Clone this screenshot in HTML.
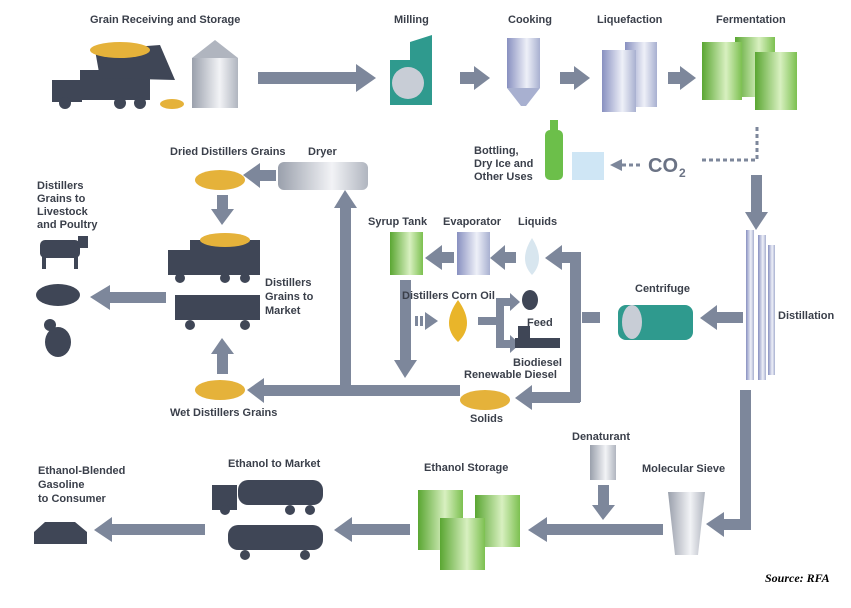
<!DOCTYPE html>
<html><head><meta charset="utf-8"><style>
body{margin:0;background:#fff}
svg{display:block}
text{font-family:"Liberation Sans",sans-serif;font-size:11px;font-weight:bold;fill:#3a3f4a}
</style></head><body>
<svg width="851" height="608" viewBox="0 0 851 608" xmlns="http://www.w3.org/2000/svg">
<defs>
<linearGradient id="gr" x1="0" x2="1"><stop offset="0" stop-color="#5aa632"/><stop offset=".6" stop-color="#d8f0c0"/><stop offset="1" stop-color="#7cc050"/></linearGradient>
<linearGradient id="bl" x1="0" x2="1"><stop offset="0" stop-color="#8890c0"/><stop offset=".6" stop-color="#eef0f8"/><stop offset="1" stop-color="#a8b0d0"/></linearGradient>
<linearGradient id="gy" x1="0" x2="1"><stop offset="0" stop-color="#9aa0ac"/><stop offset=".6" stop-color="#f2f3f6"/><stop offset="1" stop-color="#b0b5bf"/></linearGradient>
</defs>
<g fill="#7d879b" stroke="none">
<!-- top row arrows -->
<rect x="258" y="72" width="100" height="12"/><polygon points="356,64 376,78 356,92"/>
<rect x="460" y="72" width="16" height="12"/><polygon points="474,66 490,78 474,90"/>
<rect x="560" y="72" width="16" height="12"/><polygon points="574,66 590,78 574,90"/>
<rect x="668" y="72" width="14" height="12"/><polygon points="680,66 696,78 680,90"/>
<!-- fermentation down -->
<rect x="751" y="175" width="11" height="40"/><polygon points="745,212 768,212 756,230"/>
<!-- distillation to centrifuge -->
<rect x="715" y="312" width="28" height="11"/><polygon points="717,305 717,330 700,318"/>
<!-- centrifuge outputs -->
<rect x="582" y="312" width="18" height="11"/>
<rect x="570" y="252" width="11" height="150"/>
<rect x="560" y="252" width="20" height="11"/><polygon points="562,245 562,270 545,258"/>
<rect x="530" y="392" width="50" height="11"/><polygon points="532,385 532,410 515,398"/>
<rect x="503" y="252" width="13" height="11"/><polygon points="505,245 505,270 490,258"/>
<rect x="440" y="252" width="14" height="11"/><polygon points="442,245 442,270 425,258"/>
<!-- syrup down -->
<rect x="400" y="280" width="11" height="82"/><polygon points="394,360 417,360 405,378"/>
<!-- corn oil -->
<rect x="415" y="316" width="3" height="10"/><rect x="420" y="316" width="3" height="10"/><polygon points="425,312 438,321 425,330"/>
<rect x="478" y="317" width="22" height="8"/><rect x="496" y="298" width="8" height="50"/>
<rect x="496" y="298" width="16" height="8"/><polygon points="510,293 520,302 510,311"/>
<rect x="496" y="340" width="16" height="8"/><polygon points="510,335 520,344 510,353"/>
<!-- main vertical and left -->
<rect x="340" y="385" width="120" height="11"/>
<rect x="340" y="205" width="11" height="190"/><polygon points="334,208 357,208 345,190"/>
<rect x="262" y="385" width="90" height="11"/><polygon points="264,378 264,403 247,390"/>
<!-- dryer left -->
<rect x="258" y="170" width="18" height="11"/><polygon points="260,163 260,188 243,175"/>
<rect x="217" y="195" width="11" height="16"/><polygon points="211,209 234,209 222,225"/>
<rect x="217" y="352" width="11" height="22"/><polygon points="211,354 234,354 222,338"/>
<rect x="108" y="292" width="58" height="11"/><polygon points="110,285 110,310 90,297"/>
<!-- molecular sieve path -->
<rect x="740" y="390" width="11" height="140"/>
<rect x="722" y="519" width="29" height="11"/><polygon points="724,512 724,537 706,524"/>
<rect x="598" y="485" width="11" height="22"/><polygon points="592,505 615,505 603,520"/>
<rect x="545" y="524" width="118" height="11"/><polygon points="547,517 547,542 528,530"/>
<rect x="350" y="524" width="60" height="11"/><polygon points="352,517 352,542 334,530"/>
<rect x="110" y="524" width="95" height="11"/><polygon points="112,517 112,542 94,530"/>
</g>
<!-- CO2 dotted -->
<path d="M757 127 V160 H700" stroke="#7d879b" stroke-width="3" stroke-dasharray="4 3" fill="none"/>
<path d="M640 165 H620" stroke="#7d879b" stroke-width="3" stroke-dasharray="4 3" fill="none"/>
<polygon points="622,159 610,165 622,171" fill="#7d879b"/>
<text x="648" y="172" style="font-size:20px;fill:#6b7385">CO</text><text x="679" y="177" style="font-size:12px;fill:#6b7385">2</text>

<!-- Truck grain -->
<g fill="#3f4656"><rect x="52" y="80" width="30" height="22"/><rect x="80" y="70" width="70" height="30"/><polygon points="95,50 160,45 175,80 100,78"/><circle cx="65" cy="103" r="6"/><circle cx="120" cy="103" r="6"/><circle cx="140" cy="103" r="6"/></g>
<ellipse cx="120" cy="50" rx="30" ry="8" fill="#e5b23a"/><ellipse cx="172" cy="104" rx="12" ry="5" fill="#e5b23a"/>
<rect x="192" y="58" width="46" height="50" fill="url(#gy)"/><polygon points="192,58 215,40 238,58" fill="#b0b5bf"/>
<!-- mill -->
<rect x="390" y="60" width="42" height="45" fill="#2f9a8e"/><circle cx="408" cy="83" r="16" fill="#c8cdd6"/><polygon points="410,42 432,35 432,60 410,60" fill="#2f9a8e"/>
<!-- cooking -->
<rect x="507" y="38" width="33" height="50" fill="url(#bl)"/><polygon points="507,88 540,88 526,106 521,106" fill="#a8b0d0"/>
<!-- liquefaction -->
<rect x="625" y="42" width="32" height="65" fill="url(#bl)"/><rect x="602" y="50" width="34" height="62" fill="url(#bl)"/>
<!-- fermentation -->
<rect x="735" y="37" width="40" height="60" fill="url(#gr)"/><rect x="702" y="42" width="40" height="58" fill="url(#gr)"/><rect x="755" y="52" width="42" height="58" fill="url(#gr)"/>
<!-- bottle ice -->
<rect x="545" y="130" width="18" height="50" rx="5" fill="#6cbf4a"/><rect x="550" y="120" width="8" height="12" fill="#6cbf4a"/>
<rect x="572" y="152" width="32" height="28" fill="#cfe6f5"/>
<!-- distillation -->
<rect x="746" y="230" width="8" height="150" fill="url(#bl)"/><rect x="758" y="235" width="8" height="145" fill="url(#bl)"/><rect x="768" y="245" width="7" height="130" fill="url(#bl)"/>
<!-- centrifuge -->
<rect x="618" y="305" width="75" height="35" rx="8" fill="#2f9a8e"/><ellipse cx="632" cy="322" rx="10" ry="17" fill="#c8cdd6"/>
<!-- liquids drop / tanks -->
<path d="M532 238 Q546 260 532 275 Q518 260 532 238Z" fill="#d8e6ef"/>
<rect x="457" y="232" width="33" height="43" fill="url(#bl)"/>
<rect x="390" y="232" width="33" height="43" fill="url(#gr)"/>
<path d="M458 300 Q476 325 458 342 Q440 325 458 300Z" fill="#e9b52a"/>
<g fill="#3f4656"><ellipse cx="530" cy="300" rx="8" ry="10"/><rect x="515" y="338" width="45" height="10"/><rect x="518" y="326" width="12" height="14"/></g>
<ellipse cx="485" cy="400" rx="25" ry="10" fill="#e5b23a"/>
<!-- dryer -->
<rect x="278" y="162" width="90" height="28" rx="6" fill="url(#gy)"/>
<ellipse cx="220" cy="180" rx="25" ry="10" fill="#e5b23a"/>
<ellipse cx="220" cy="390" rx="25" ry="10" fill="#e5b23a"/>
<!-- truck/rail -->
<g fill="#3f4656"><rect x="168" y="250" width="25" height="25"/><rect x="190" y="240" width="70" height="35"/><circle cx="180" cy="278" r="5"/><circle cx="225" cy="278" r="5"/><circle cx="245" cy="278" r="5"/>
<rect x="175" y="295" width="85" height="25"/><circle cx="190" cy="325" r="5"/><circle cx="245" cy="325" r="5"/></g>
<ellipse cx="225" cy="240" rx="25" ry="7" fill="#e5b23a"/>
<!-- animals -->
<g fill="#3f4656"><rect x="40" y="240" width="40" height="18" rx="5"/><rect x="42" y="255" width="4" height="14"/><rect x="74" y="255" width="4" height="14"/><rect x="78" y="236" width="10" height="12"/>
<ellipse cx="58" cy="295" rx="22" ry="11"/><ellipse cx="58" cy="342" rx="13" ry="15"/><circle cx="50" cy="325" r="6"/></g>
<!-- sieve/denaturant/storage -->
<polygon points="668,492 705,492 698,555 675,555" fill="url(#gy)"/>
<rect x="590" y="445" width="26" height="35" fill="url(#gy)"/>
<rect x="418" y="490" width="45" height="60" fill="url(#gr)"/><rect x="475" y="495" width="45" height="52" fill="url(#gr)"/><rect x="440" y="518" width="45" height="52" fill="url(#gr)"/>
<g fill="#3f4656"><rect x="212" y="485" width="25" height="25"/><rect x="238" y="480" width="85" height="25" rx="10"/><circle cx="225" cy="510" r="5"/><circle cx="290" cy="510" r="5"/><circle cx="310" cy="510" r="5"/>
<rect x="228" y="525" width="95" height="25" rx="10"/><circle cx="245" cy="555" r="5"/><circle cx="305" cy="555" r="5"/>
<path d="M34 544 V532 L45 522 H75 L87 532 V544Z"/></g>
<!-- labels -->
<text x="90" y="23">Grain Receiving and Storage</text>
<text x="394" y="23">Milling</text>
<text x="508" y="23">Cooking</text>
<text x="597" y="23">Liquefaction</text>
<text x="716" y="23">Fermentation</text>
<text x="474" y="154">Bottling,</text><text x="474" y="167">Dry Ice and</text><text x="474" y="180">Other Uses</text>
<text x="170" y="155">Dried Distillers Grains</text><text x="308" y="155">Dryer</text>
<text x="37" y="189">Distillers</text><text x="37" y="202">Grains to</text><text x="37" y="215">Livestock</text><text x="37" y="228">and Poultry</text>
<text x="368" y="225">Syrup Tank</text><text x="443" y="225">Evaporator</text><text x="518" y="225">Liquids</text>
<text x="635" y="292">Centrifuge</text><text x="778" y="319">Distillation</text>
<text x="265" y="286">Distillers</text><text x="265" y="300">Grains to</text><text x="265" y="314">Market</text>
<text x="402" y="299">Distillers Corn Oil</text><text x="527" y="326">Feed</text>
<text x="513" y="366">Biodiesel</text><text x="464" y="378">Renewable Diesel</text>
<text x="470" y="422">Solids</text><text x="170" y="416">Wet Distillers Grains</text>
<text x="572" y="440">Denaturant</text><text x="642" y="472">Molecular Sieve</text>
<text x="424" y="471">Ethanol Storage</text><text x="228" y="467">Ethanol to Market</text>
<text x="38" y="474">Ethanol-Blended</text><text x="38" y="488">Gasoline</text><text x="38" y="502">to Consumer</text>
<text x="765" y="582" style="font-family:'Liberation Serif',serif;font-style:italic;fill:#000;font-size:12px">Source: RFA</text>
</svg>
</body></html>
